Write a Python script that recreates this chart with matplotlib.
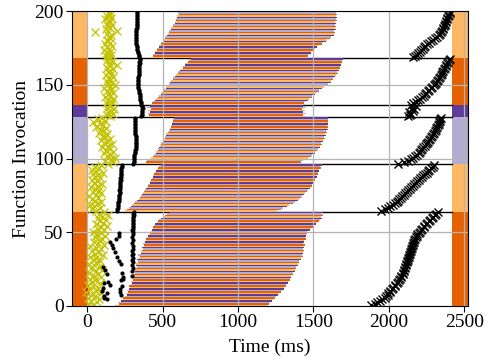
import numpy as np
import matplotlib
matplotlib.use("Agg")
import matplotlib.pyplot as plt

plt.rcParams["font.family"] = "Liberation Serif"
plt.rcParams["font.size"] = 14

DARK_ORANGE = "#e66101"
LIGHT_ORANGE = "#fdb863"
LIGHT_PURPLE = "#b2abd2"
DARK_PURPLE = "#5e3c99"

# invocation groups (first index, end index, colour of the side bands)
group_first = [0, 64, 96, 128, 136, 168]
group_last = [64, 96, 128, 136, 168, 200]
group_colors = [DARK_ORANGE, LIGHT_ORANGE, LIGHT_PURPLE, DARK_PURPLE,
                DARK_ORANGE, LIGHT_ORANGE]
bar_cycle = [LIGHT_ORANGE, DARK_ORANGE, LIGHT_PURPLE, DARK_PURPLE]

# execution start / end per invocation (ms)
exec_start = [
    185, 210, 205, 228, 240, 236, 252, 262, 258, 272,
    265, 280, 284, 278, 292, 298, 290, 302, 308, 300,
    312, 306, 318, 316, 310, 324, 330, 326, 322, 336,
    340, 332, 346, 350, 340, 356, 360, 364, 372, 366,
    378, 380, 370, 386, 392, 388, 398, 404, 410, 418,
    422, 428, 436, 440, 446, 452, 462, 468, 480, 490,
    502, 515, 530, 545,
    250, 265, 276, 290, 296, 312, 320, 332,
    342, 348, 358, 364, 368, 378, 386, 388,
    396, 402, 404, 414, 420, 422, 430, 436,
    438, 444, 452, 454, 464, 470, 474, 488,
    362, 388, 400, 418, 424, 440, 444, 455,
    456, 468, 470, 480, 482, 492, 492, 502,
    504, 514, 516, 524, 526, 538, 540, 552,
    548, 558, 556, 566, 562, 572, 570, 578,
    432, 410, 402, 420, 404, 424, 398, 416,
    418, 432, 438, 452, 458, 470, 476, 488,
    492, 504, 508, 520, 524, 536, 540, 552,
    556, 568, 572, 584, 588, 600, 604, 618,
    625, 636, 638, 648, 646, 672, 678, 690,
    424, 434, 438, 450, 452, 464, 466, 476,
    478, 488, 490, 500, 503, 514, 518, 530,
    534, 544, 546, 556, 558, 568, 570, 580,
    580, 590, 588, 598, 596, 606, 602, 612,
]
exec_end = [
    1190, 1204, 1210, 1226, 1232, 1248, 1254, 1268, 1272, 1288,
    1290, 1302, 1304, 1316, 1316, 1330, 1330, 1344, 1344, 1354,
    1354, 1366, 1364, 1376, 1376, 1386, 1386, 1398, 1396, 1408,
    1406, 1418, 1418, 1428, 1426, 1434, 1430, 1436, 1432, 1440,
    1430, 1442, 1432, 1440, 1438, 1448, 1444, 1454, 1450, 1458,
    1460, 1476, 1482, 1498, 1500, 1516, 1522, 1540, 1544, 1556,
    1552, 1562, 1558, 1566,
    1262, 1288, 1298, 1326, 1340, 1364, 1376, 1396,
    1402, 1420, 1422, 1438, 1444, 1460, 1464, 1480,
    1480, 1492, 1492, 1504, 1504, 1514, 1514, 1524,
    1520, 1532, 1530, 1540, 1538, 1548, 1546, 1556,
    1392, 1418, 1430, 1454, 1464, 1484, 1490, 1508,
    1512, 1526, 1528, 1542, 1542, 1554, 1552, 1564,
    1562, 1574, 1572, 1582, 1578, 1588, 1584, 1594,
    1588, 1596, 1592, 1598, 1594, 1600, 1594, 1598,
    1442, 1428, 1450, 1430, 1446, 1424, 1452, 1434,
    1422, 1438, 1446, 1464, 1470, 1488, 1494, 1512,
    1516, 1534, 1540, 1560, 1568, 1588, 1596, 1614,
    1616, 1630, 1632, 1646, 1648, 1660, 1658, 1670,
    1666, 1676, 1674, 1684, 1682, 1692, 1688, 1696,
    1448, 1464, 1468, 1484, 1488, 1504, 1508, 1524,
    1532, 1554, 1562, 1584, 1592, 1612, 1618, 1634,
    1634, 1644, 1640, 1648, 1642, 1650, 1644, 1652,
    1646, 1654, 1648, 1656, 1650, 1656, 1652, 1658,
]

# request sent (ms)
send_times = [
    40, 12, 65, 25, 78, 5, 50, 30, 90, -8,
    60, 18, 72, 42, 8, 85, 35, 55, 20, 95,
    48, 70, 15, 62, 100, 28, 80, 45, 10, 68,
    88, 38, 58, 22, 105, 50, 75, 32, 92, 60,
    18, 110, 70, 45, 85, 100, 55, 120, 65, 90,
    40, 115, 75, 95, 130, 60, 105, 85, 125, 70,
    100, 140, 80, 110,
    60, 30, 85, 45, 20, 70, 95, 50,
    35, 75, 15, 60, 90, 40, 80, 55,
    25, 70, 100, 45, 65, 30, 85, 50,
    75, 40, 106, 60, 35, 80, 55, 90,
    140, 175, 120, 160, 185, 130, 150, 110,
    170, 125, 155, 100, 140, 165, 115, 135,
    90, 150, 120, 105, 130, 80, 115, 95,
    125, 60, 105, 85, 40, 120, 70, 100,
    150, 130, 170, 140, 160, 180, 135, 155,
    150, 130, 165, 140, 175, 120, 155, 145,
    170, 135, 160, 110, 150, 185, 140, 165,
    130, 155, 145, 175, 125, 160, 140, 150,
    170, 135, 155, 200, 145, 165, 130, 150,
    140, 125, 160, 135, 150, 115, 145, 130,
    165, 120, 155, 140, 130, 150, 145, 160,
    135, 53, 200, 125, 150, 140, 165, 130,
    155, 145, 120, 160, 135, 150, 140, 155,
]

# retried requests
retry_x = [-8, 2, -3]
retry_y = [11.5, 10.0, 9.0]

# container ready (ms), nan where not recorded
ready_times = [
    np.nan, np.nan, np.nan, np.nan, 135, 110, 115, 225, 130, 220,
    100, 218, 105, 232, 150, 112, 140, 228, 236, 235,
    300, 130, 230, 298, 120, 302, 105, 300, 222, 302,
    210, 300, 304, 195, 298, 302, 185, 300, 304, 170,
    302, 165, 300, 155, 304, 190, 300, 212, 302, 210,
    304, 300, 306, 302, 304, 306, 302, 305, 307, 304,
    306, 308, 305, 310,
    198, 200, 202, 204, 206, 205, 208, 210,
    212, 210, 214, 213, 215, 216, 214, 217,
    218, 219, 218, 220, 221, 222, 220, 223,
    224, 225, 224, 226, 228, 227, 229, 232,
    306, 308, 310, 309, 311, 312, 314, 316,
    318, 320, 322, 324, 325, 326, 325, 324,
    324, 323, 322, 321, 320, 320, 319, 318,
    318, 317, 318, 316, 318, 317, 318, 320,
    360, 362, 364, 363, 365, 366, 368, 366,
    358, 356, 355, 353, 352, 351, 350, 348,
    346, 344, 342, 340, 339, 338, 337, 337,
    338, 338, 339, 340, 341, 342, 343, 344,
    345, 346, 346, 347, 348, 347, 348, 349,
    346, 344, 341, 338, 336, 334, 332, 330,
    328, 327, 326, 325, 325, 324, 325, 326,
    326, 327, 326, 327, 328, 328, 329, 328,
    329, 330, 329, 330, 331, 330, 331, 332,
]

# response received (ms)
response_times = [
    1885, 1908, 1922, 1944, 1958, 1972, 1980, 1992, 1998, 2008,
    2010, 2022, 2028, 2040, 2044, 2056, 2060, 2070, 2074, 2084,
    2084, 2092, 2092, 2100, 2102, 2110, 2110, 2116, 2116, 2122,
    2120, 2126, 2126, 2134, 2134, 2140, 2140, 2148, 2148, 2154,
    2154, 2160, 2160, 2168, 2168, 2176, 2178, 2188, 2190, 2202,
    2206, 2216, 2220, 2232, 2236, 2248, 2252, 2264, 2270, 2284,
    2290, 2304, 2310, 2325,
    1950, 1975, 1995, 2010, 2028, 2040, 2052, 2062,
    2070, 2082, 2090, 2100, 2110, 2120, 2130, 2140,
    2150, 2160, 2170, 2180, 2190, 2200, 2210, 2220,
    2230, 2240, 2250, 2258, 2268, 2278, 2290, 2302,
    2060, 2100, 2125, 2145, 2160, 2175, 2188, 2198,
    2204, 2212, 2222, 2230, 2238, 2246, 2254, 2262,
    2268, 2274, 2280, 2286, 2292, 2298, 2306, 2312,
    2316, 2320, 2326, 2330, 2334, 2338, 2342, 2348,
    2125, 2140, 2150, 2135, 2160, 2170, 2155, 2180,
    2145, 2162, 2180, 2196, 2210, 2222, 2234, 2242,
    2248, 2258, 2268, 2278, 2288, 2298, 2306, 2314,
    2320, 2326, 2332, 2338, 2344, 2350, 2355, 2360,
    2365, 2370, 2376, 2382, 2388, 2392, 2398, 2404,
    2160, 2172, 2184, 2196, 2206, 2216, 2226, 2236,
    2238, 2252, 2266, 2282, 2296, 2308, 2320, 2330,
    2340, 2348, 2354, 2358, 2362, 2366, 2370, 2374,
    2378, 2381, 2385, 2389, 2393, 2398, 2403, 2408,
]

n = len(exec_start)
idx = np.arange(n)
mid = idx + 0.5
x_lo, x_hi = -100, 2525
band_lo, band_hi = 2420, 2525

fig = plt.figure(figsize=(4.91, 3.62), dpi=100)
ax = fig.add_axes([72 / 491, 56 / 362, 396 / 491, 295 / 362])

# side bands marking the groups
for g0, g1, c in zip(group_first, group_last, group_colors):
    ax.fill_between([x_lo, 0], g0, g1, color=c, lw=0, zorder=1)
    ax.fill_between([band_lo, band_hi], g0, g1, color=c, lw=0, zorder=1)

# group separators
for g in group_first[1:]:
    ax.plot([0, band_lo], [g, g], color="black", lw=1, zorder=1.5)

colors = [bar_cycle[i % 4] for i in idx]
ax.barh(idx, np.array(exec_end) - np.array(exec_start), left=exec_start,
        height=1.0, align="edge", color=colors, lw=0, zorder=2)

ax.plot(retry_x, retry_y, "x", color="red", ms=3, mew=0.8, zorder=3)
ax.plot(send_times, mid, "x", color="#c2c200", ms=6, mew=0.9, zorder=3.1)
ax.plot(ready_times, mid, "o", color="black", ms=3, mew=0, zorder=3.2)
ax.plot(response_times, mid, "x", color="black", ms=6, mew=1.0, zorder=3.2)

ax.set_xlim(x_lo, x_hi)
ax.set_ylim(0, 200)
ax.set_xticks([0, 500, 1000, 1500, 2000, 2500])
ax.set_yticks([0, 50, 100, 150, 200])
ax.grid(True, color="#b4b4b4", lw=0.9, zorder=2.5)
ax.set_axisbelow(False)
ax.tick_params(direction="out", length=4, width=0.8, pad=2)
for s in ax.spines.values():
    s.set_zorder(4)

ax.set_xlabel("Time (ms)", labelpad=5)
ax.set_ylabel("Function Invocation", labelpad=3)

fig.savefig("out.png", dpi=100)
